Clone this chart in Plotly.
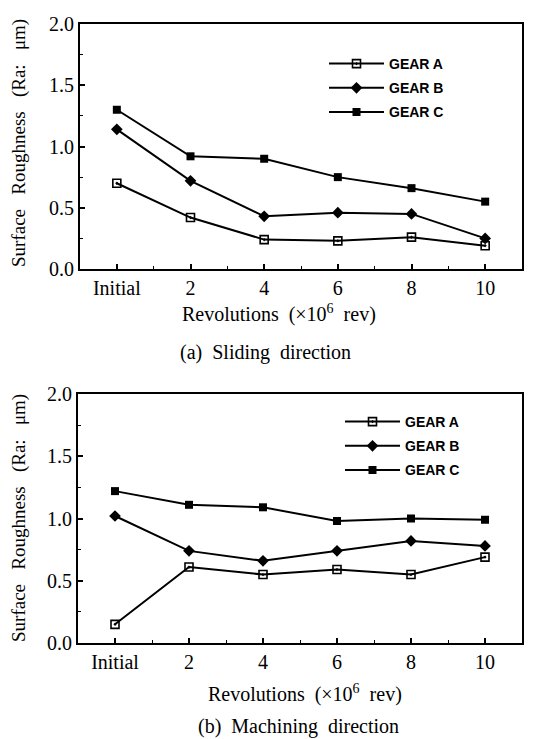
import plotly.graph_objects as go

categories = ["Initial", "2", "4", "6", "8", "10"]
series_names = ["GEAR A", "GEAR B", "GEAR C"]

# (a) Sliding direction
sliding_a = [0.70, 0.42, 0.24, 0.23, 0.26, 0.19]
sliding_b = [1.14, 0.72, 0.43, 0.46, 0.45, 0.25]
sliding_c = [1.30, 0.92, 0.90, 0.75, 0.66, 0.55]

# (b) Machining direction
machining_a = [0.15, 0.61, 0.55, 0.59, 0.55, 0.69]
machining_b = [1.02, 0.74, 0.66, 0.74, 0.82, 0.78]
machining_c = [1.22, 1.11, 1.09, 0.98, 1.00, 0.99]

y_ticks = [0.0, 0.5, 1.0, 1.5, 2.0]
y_ticktext = ["0.0", "0.5", "1.0", "1.5", "2.0"]

# page body has an 8px margin, so the figure is drawn 8px in from the window corner
OFF = 8
W, H = 535 - OFF, 739 - OFF
SERIF = "Liberation Serif, Times New Roman, serif"
SANS = "Liberation Sans, Arial, sans-serif"

xpos = list(range(len(categories)))
markers = [
    dict(symbol="square-open-dot", size=8, color="black", line=dict(width=1.6, color="black")),
    dict(symbol="diamond", size=9, color="black", line=dict(width=0, color="black")),
    dict(symbol="square", size=8, color="black", line=dict(width=0, color="black")),
]

fig = go.Figure()

panels = [
    ([sliding_a, sliding_b, sliding_c], "x", "y", "legend"),
    ([machining_a, machining_b, machining_c], "x2", "y2", "legend2"),
]
for vals, xa, ya, lg in panels:
    for name, v, m in zip(series_names, vals, markers):
        fig.add_trace(go.Scatter(
            x=xpos, y=v, name=name, mode="lines+markers",
            line=dict(color="black", width=2), marker=m,
            xaxis=xa, yaxis=ya, legend=lg, legendgroup=lg + name,
        ))

def px_x(p):
    return (p - OFF) / W

def px_y(p):
    return 1 - (p - OFF) / H

xaxis_common = dict(
    range=[-0.5, 5.5], tickvals=xpos, ticktext=categories,
    ticks="inside", ticklen=5, tickwidth=1.5, tickcolor="black",
    showline=True, linecolor="black", linewidth=2, mirror=True,
    showgrid=False, zeroline=False, automargin=False, ticklabelstandoff=0,
    tickfont=dict(family=SERIF, size=20, color="black"),
    minor=dict(tickvals=[0.5, 1.5, 2.5, 3.5, 4.5], ticks="inside", ticklen=3,
               tickwidth=1.2, tickcolor="black"),
)
yaxis_common = dict(
    range=[0, 2.0], tickvals=y_ticks, ticktext=y_ticktext,
    ticks="inside", ticklen=5, tickwidth=1.5, tickcolor="black",
    showline=True, linecolor="black", linewidth=2, mirror=True,
    showgrid=False, zeroline=False, automargin=False,
    tickfont=dict(family=SERIF, size=20, color="black"),
    minor=dict(tickvals=[0.25, 0.75, 1.25, 1.75], ticks="inside", ticklen=3,
               tickwidth=1.2, tickcolor="black"),
)

legend_font = dict(family=SANS, size=14, color="black", weight="bold")

fig.update_layout(
    width=W, height=H,
    margin=dict(l=0, r=0, t=0, b=0, autoexpand=False),
    paper_bgcolor="white", plot_bgcolor="white",
    xaxis=dict(domain=[px_x(80), px_x(522)], anchor="y", **xaxis_common),
    yaxis=dict(domain=[px_y(269), px_y(24)], anchor="x", **yaxis_common),
    xaxis2=dict(domain=[px_x(78), px_x(522)], anchor="y2", **xaxis_common),
    yaxis2=dict(domain=[px_y(643), px_y(394)], anchor="x2", **yaxis_common),
    legend=dict(x=px_x(324), y=px_y(48), xanchor="left", yanchor="top",
                bgcolor="rgba(0,0,0,0)", tracegroupgap=3, itemwidth=55,
                font=legend_font),
    legend2=dict(x=px_x(340), y=px_y(406), xanchor="left", yanchor="top",
                 bgcolor="rgba(0,0,0,0)", tracegroupgap=3, itemwidth=55,
                 font=legend_font),
    showlegend=True,
)

ann_font = dict(family=SERIF, size=19, color="black")
annotations = [
    dict(text="Surface   Roughness   (Ra:   μm)", x=px_x(19), y=px_y(143), textangle=-90),
    dict(text="Revolutions  (×10<sup>6</sup>  rev)", x=px_x(279), y=px_y(313)),
    dict(text="(a)  Sliding  direction", x=px_x(265), y=px_y(352)),
    dict(text="Surface   Roughness   (Ra:   μm)", x=px_x(19), y=px_y(518), textangle=-90),
    dict(text="Revolutions  (×10<sup>6</sup>  rev)", x=px_x(305), y=px_y(693)),
    dict(text="(b)  Machining  direction", x=px_x(298), y=px_y(726)),
]
for a in annotations:
    f = dict(ann_font)
    if a["text"].startswith(("Rev", "(")):
        f["size"] = 20
    fig.add_annotation(xref="paper", yref="paper", showarrow=False,
                       xanchor="center", yanchor="middle", font=f, **a)

fig.write_html("out.html")
